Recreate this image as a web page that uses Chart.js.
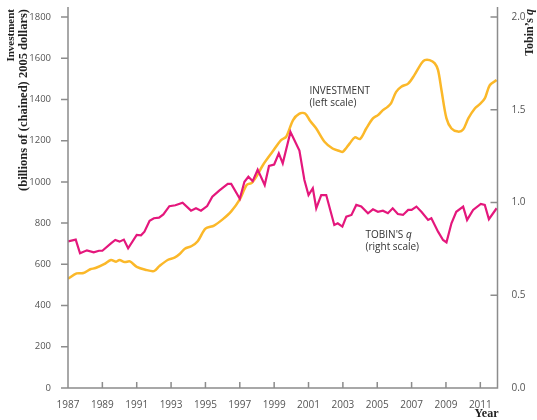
<!DOCTYPE html>
<html>
<head>
<meta charset="utf-8">
<script src="https://cdn.jsdelivr.net/npm/chart.js@4"></script>
<style>
  html, body { margin: 0; padding: 0; background: #fff; }
  #wrap { width: 537px; height: 420px; position: relative; }
</style>
</head>
<body>
<div id="wrap"><canvas id="grafica"></canvas></div>
<script>
// Datos (trimestrales aprox.)
const invAnios = [1987.0, 1987.5, 1987.9, 1988.3, 1988.6, 1989.1, 1989.5, 1989.8, 1990.0, 1990.3, 1990.6, 1991.0, 1991.5, 1992.0, 1992.3, 1992.8, 1993.2, 1993.5, 1993.8, 1994.2, 1994.55, 1995.0, 1995.5, 1996.0, 1996.5, 1997.0, 1997.4, 1997.7, 1998.0, 1998.35, 1998.9, 1999.4, 1999.7, 2000.1, 2000.45, 2000.8, 2001.1, 2001.45, 2001.93, 2002.4, 2002.8, 2003.0, 2003.4, 2003.7, 2004.0, 2004.36, 2004.75, 2005.04, 2005.33, 2005.6, 2005.8, 2006.1, 2006.4, 2006.8, 2007.16, 2007.57, 2007.76, 2008.05, 2008.35, 2008.54, 2008.74, 2009.03, 2009.32, 2009.7, 2010.0, 2010.3, 2010.68, 2010.97, 2011.26, 2011.55, 2011.95];
const invValores = [530, 556, 558, 576, 582, 601, 621, 613, 621, 611, 614, 588, 574, 567, 590, 621, 632, 650, 676, 689, 712, 773, 788, 818, 857, 915, 985, 995, 1030, 1082, 1146, 1203, 1219, 1300, 1330, 1332, 1295, 1259, 1195, 1162, 1150, 1146, 1187, 1216, 1208, 1259, 1308, 1324, 1348, 1364, 1381, 1437, 1462, 1477, 1518, 1575, 1591, 1591, 1575, 1542, 1445, 1308, 1259, 1244, 1254, 1308, 1356, 1377, 1405, 1469, 1494];

const qAnios = [1987.0, 1987.45, 1987.7, 1988.1, 1988.5, 1988.8, 1989.0, 1989.5, 1989.75, 1990.0, 1990.25, 1990.5, 1991.0, 1991.25, 1991.45, 1991.75, 1992.0, 1992.3, 1992.55, 1992.9, 1993.25, 1993.67, 1994.16, 1994.45, 1994.74, 1995.1, 1995.4, 1995.8, 1996.3, 1996.5, 1997.0, 1997.27, 1997.5, 1997.75, 1998.04, 1998.45, 1998.7, 1999.0, 1999.27, 1999.5, 1999.95, 2000.47, 2000.76, 2001.0, 2001.25, 2001.45, 2001.74, 2002.03, 2002.5, 2002.7, 2002.97, 2003.2, 2003.5, 2003.78, 2004.07, 2004.46, 2004.75, 2005.04, 2005.33, 2005.62, 2005.9, 2006.2, 2006.5, 2006.8, 2007.0, 2007.28, 2007.57, 2007.96, 2008.15, 2008.54, 2008.83, 2009.03, 2009.32, 2009.6, 2010.0, 2010.23, 2010.58, 2011.03, 2011.26, 2011.5, 2011.95];
const qValores = [0.79, 0.80, 0.726, 0.742, 0.731, 0.74, 0.74, 0.78, 0.798, 0.789, 0.80, 0.753, 0.825, 0.823, 0.843, 0.902, 0.915, 0.918, 0.936, 0.98, 0.985, 0.999, 0.956, 0.969, 0.956, 0.981, 1.031, 1.064, 1.10, 1.10, 1.02, 1.112, 1.139, 1.115, 1.177, 1.094, 1.197, 1.205, 1.265, 1.211, 1.38, 1.28, 1.121, 1.04, 1.077, 0.969, 1.04, 1.04, 0.879, 0.888, 0.87, 0.924, 0.933, 0.987, 0.978, 0.942, 0.963, 0.95, 0.956, 0.942, 0.969, 0.938, 0.933, 0.96, 0.96, 0.978, 0.95, 0.906, 0.915, 0.843, 0.798, 0.785, 0.888, 0.95, 0.978, 0.906, 0.96, 0.992, 0.987, 0.91, 0.969];

const ticksAnios = [1987, 1989, 1991, 1993, 1995, 1997, 1999, 2001, 2003, 2005, 2007, 2009, 2011];
const ticksInversion = [0, 200, 400, 600, 800, 1000, 1200, 1400, 1600, 1800];
const ticksQ = [0, 0.5, 1.0, 1.5, 2.0];

const COLOR_INV = '#FBB829';
const COLOR_Q = '#E4177C';
const COLOR_EJE = '#8c8c8c';
const COLOR_TEXTO = '#555';
const FUENTE = '"Open Sans", "Noto Sans", sans-serif';
const SERIF = '"Liberation Serif", "DejaVu Serif", serif';

function aPuntos(xs, ys) {
    return xs.map((x, i) => ({ x: x, y: ys[i] }));
}

// Ejes, marcas y textos dibujados a mano
const pluginEjes = {
    id: 'ejes',
    afterDraw(chart) {
        const ctx = chart.ctx;
        const area = chart.chartArea;
        const sx = chart.scales.x;
        const sy = chart.scales.y;
        const sq = chart.scales.y1;

        ctx.save();
        ctx.strokeStyle = COLOR_EJE;
        ctx.lineWidth = 1.5;
        ctx.beginPath();
        ctx.moveTo(area.left, area.top - 10);
        ctx.lineTo(area.left, area.bottom);
        ctx.lineTo(area.right, area.bottom);
        ctx.lineTo(area.right, area.top - 10);
        // marcas eje izquierdo (hacia afuera)
        ticksInversion.forEach(v => {
            const py = sy.getPixelForValue(v);
            ctx.moveTo(area.left - 7, py);
            ctx.lineTo(area.left, py);
        });
        // marcas eje derecho (hacia adentro)
        ticksQ.forEach(v => {
            const py = sq.getPixelForValue(v);
            ctx.moveTo(area.right - 7, py);
            ctx.lineTo(area.right, py);
        });
        // marcas eje x (hacia adentro)
        ticksAnios.forEach(v => {
            const px = sx.getPixelForValue(v);
            ctx.moveTo(px, area.bottom);
            ctx.lineTo(px, area.bottom - 6);
        });
        ctx.stroke();

        // Etiquetas de las series
        ctx.fillStyle = '#333';
        ctx.textBaseline = 'middle';
        ctx.textAlign = 'left';
        ctx.font = '10px ' + FUENTE;
        let px = sx.getPixelForValue(2001.06);
        let py = sy.getPixelForValue(1440);
        ctx.fillText('INVESTMENT', px, py);
        ctx.fillText('(left scale)', px, py + 12);

        px = sx.getPixelForValue(2004.32);
        py = sq.getPixelForValue(0.825);
        ctx.fillText("TOBIN'S ", px, py);
        const w = ctx.measureText("TOBIN'S ").width;
        ctx.font = 'italic 10px ' + FUENTE;
        ctx.fillText('q', px + w, py);
        ctx.font = '10px ' + FUENTE;
        ctx.fillText('(right scale)', px, py + 12);

        // Titulo eje izquierdo
        ctx.fillStyle = '#222';
        ctx.textAlign = 'right';
        ctx.save();
        ctx.font = 'bold 11px ' + SERIF;
        ctx.translate(11, 9);
        ctx.rotate(-Math.PI / 2);
        ctx.fillText('Investment', 0, 0);
        ctx.restore();
        ctx.save();
        ctx.font = 'bold 12.5px ' + SERIF;
        ctx.translate(23.5, 9);
        ctx.rotate(-Math.PI / 2);
        ctx.fillText('(billions of (chained) 2005 dollars)', 0, 0);
        ctx.restore();

        // Titulo eje derecho
        ctx.save();
        ctx.translate(530, 9);
        ctx.rotate(-Math.PI / 2);
        ctx.font = 'bold italic 12px ' + SERIF;
        const wq = ctx.measureText('q').width;
        ctx.fillText('q', 0, 0);
        ctx.font = 'bold 12px ' + SERIF;
        ctx.fillText("Tobin\u2019s ", -wq, 0);
        ctx.restore();

        // Titulo eje x
        ctx.font = 'bold 12px ' + SERIF;
        ctx.textAlign = 'right';
        ctx.fillText('Year', area.right + 1, 414);
        ctx.restore();
    }
};

new Chart(document.getElementById('grafica'), {
    type: 'line',
    data: {
        datasets: [
            {
                label: "Tobin's q",
                data: aPuntos(qAnios, qValores),
                yAxisID: 'y1',
                borderColor: COLOR_Q,
                borderWidth: 2.2,
                pointRadius: 0,
                tension: 0,
                fill: false
            },
            {
                label: 'Investment',
                data: aPuntos(invAnios, invValores),
                yAxisID: 'y',
                borderColor: COLOR_INV,
                borderWidth: 2.5,
                pointRadius: 0,
                tension: 0.3,
                fill: false
            }
        ]
    },
    options: {
        responsive: true,
        maintainAspectRatio: false,
        animation: false,
        layout: { padding: { top: 17, left: 0, right: 0, bottom: 0 } },
        plugins: {
            legend: { display: false },
            tooltip: { enabled: false }
        },
        scales: {
            x: {
                type: 'linear',
                min: 1987,
                max: 2012,
                grid: { display: false },
                border: { display: false },
                afterBuildTicks: s => { s.ticks = ticksAnios.map(v => ({ value: v })); },
                afterFit: s => { s.height = 32; },
                ticks: {
                    color: COLOR_TEXTO,
                    font: { family: FUENTE, size: 10 },
                    padding: 3,
                    maxRotation: 0,
                    autoSkip: false,
                    callback: v => String(v)
                }
            },
            y: {
                position: 'left',
                min: 0,
                max: 1800,
                grid: { display: false },
                border: { display: false },
                afterBuildTicks: s => { s.ticks = ticksInversion.map(v => ({ value: v })); },
                afterFit: s => { s.width = 68; },
                ticks: {
                    color: COLOR_TEXTO,
                    font: { family: FUENTE, size: 9.5 },
                    padding: 9,
                    callback: v => String(v)
                }
            },
            y1: {
                position: 'right',
                min: 0,
                max: 2,
                grid: { display: false },
                border: { display: false },
                afterBuildTicks: s => { s.ticks = ticksQ.map(v => ({ value: v })); },
                afterFit: s => { s.width = 39.5; },
                ticks: {
                    color: COLOR_TEXTO,
                    font: { family: FUENTE, size: 10 },
                    padding: 6,
                    callback: v => Number(v).toFixed(1)
                }
            }
        }
    },
    plugins: [pluginEjes]
});
</script>
</body>
</html>
